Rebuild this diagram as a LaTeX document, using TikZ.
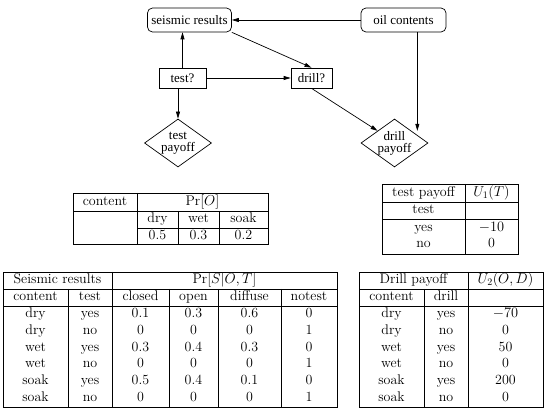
\documentclass[tikz,border=0pt]{standalone}
\usepackage{fontspec}
\newfontfamily\diafont{Liberation Serif}
\usetikzlibrary{shapes.geometric,arrows.meta}
\tikzset{
  box/.style={draw,rectangle,inner sep=0pt,minimum height=20pt},
  rbox/.style={box,rounded corners=5pt,minimum height=24pt},
  pay/.style={draw,diamond,aspect=1.4,inner sep=0pt,minimum width=67pt,minimum height=48pt,align=center},
  arr/.style={-{Triangle[length=7pt,width=4pt]}},
  tab/.style={font=\fontsize{14}{16}\selectfont,text height=9.5pt,text depth=3pt,inner sep=0pt}
}
\begin{document}
\begin{tikzpicture}[x=1pt,y=-1pt,line width=0.7pt,font=\diafont\fontsize{13}{12}\selectfont]
\useasboundingbox (0,0) rectangle (550,414);
% influence diagram
\node[rbox,minimum width=84pt] (seis) at (189.5,20) {seismic results};
\node[rbox,minimum width=85pt] (oil) at (403.5,20) {oil contents};
\node[box,minimum width=47pt] (test) at (182.5,78) {test?};
\node[box,minimum width=41pt] (drill) at (311.5,78) {drill?};
\node[pay] (tpay) at (178,143) {test\\payoff};
\node[pay] (dpay) at (394.5,143) {drill\\payoff};
\coordinate (oilfoot) at ([xshift=-29pt]oil.south east);
\draw[arr] (oil.west) -- (seis.east);
\draw[arr] (test.north) -- (test.north |- seis.south);
\draw[arr] (seis.south east) -- (drill.north);
\draw[arr] (test.east) -- (drill.west);
\draw[arr] (tpay.north |- test.south) -- (tpay.north);
\draw[arr] (drill.south) -- (dpay.north west);
\draw[arr] (oilfoot) -- (oilfoot |- dpay.north east);
% Pr[O]
\draw (73,193) rectangle (268,244);
\draw (73,211) -- (268,211) (137,228) -- (268,228);
\draw (137,193) -- (137,244) (178,211) -- (178,244) (219,211) -- (219,244);
\node[tab] (oc) at (105,202) {content};
\node[tab] (op) at (202.5,202) {$\Pr[O]$};
\foreach \o/\p/\x [count=\i] in {dry/0.5/157.5, wet/0.3/198.5, soak/0.2/243.5} {
  \node[tab] (on\i) at (\x,219.5) {\o};
  \node[tab] (ov\i) at (\x,236) {\p};
}
% U1(T)
\draw (382,184) rectangle (518,254);
\draw (382,202) -- (518,202) (382,219) -- (518,219) (465,184) -- (465,254);
\node[tab] (tp) at (423.5,193) {test payoff};
\node[tab] (tu) at (491.5,193) {$U_1(T)$};
\node[tab] (tt) at (423.5,210.5) {test};
\node[tab] (ty) at (423.5,228) {yes};
\node[tab] (tyv) at (491.5,228) {$-10$};
\node[tab] (tn) at (423.5,244) {no};
\node[tab] (tnv) at (491.5,244) {0};
% Pr[S|O,T]
\draw (3,272) rectangle (337,407);
\draw (3,289) -- (337,289) (3,306) -- (337,306) (112,272) -- (112,407);
\foreach \x in {68,169,218,281} \draw (\x,289) -- (\x,407);
\node[tab] (sh) at (57.5,280.5) {Seismic results};
\node[tab] (sp) at (224.5,280.5) {$\Pr[S|O,T]$};
\foreach \t/\x [count=\i] in {content/35.5, test/90, closed/140.5, open/193.5, diffuse/249.5, notest/309}
  \node[tab] (sk\i) at (\x,297.5) {\t};
\foreach \c/\t/\a/\b/\d/\n [count=\i from 0] in {dry/yes/0.1/0.3/0.6/0, dry/no/0/0/0/1, wet/yes/0.3/0.4/0.3/0, wet/no/0/0/0/1, soak/yes/0.5/0.4/0.1/0, soak/no/0/0/0/1} {
  \node[tab] (sc\i) at (35.5,{314+16.9*\i}) {\c};
  \node[tab] (st\i) at (90,{314+16.9*\i}) {\t};
  \node[tab] (sa\i) at (140.5,{314+16.9*\i}) {\a};
  \node[tab] (sb\i) at (193.5,{314+16.9*\i}) {\b};
  \node[tab] (sd\i) at (249.5,{314+16.9*\i}) {\d};
  \node[tab] (sn\i) at (309,{314+16.9*\i}) {\n};
}
% U2(O,D)
\draw (359,272) rectangle (543,407);
\draw (359,289) -- (543,289) (359,306) -- (543,306) (468,272) -- (468,407) (424,289) -- (424,407);
\node[tab] (dh) at (413.5,280.5) {Drill payoff};
\node[tab] (du) at (505.5,280.5) {$U_2(O,D)$};
\node[tab] (dk1) at (391.5,297.5) {content};
\node[tab] (dk2) at (446,297.5) {drill};
\foreach \c/\t/\u [count=\i from 0] in {dry/yes/$-70$, dry/no/0, wet/yes/50, wet/no/0, soak/yes/200, soak/no/0} {
  \node[tab] (dc\i) at (391.5,{314+16.9*\i}) {\c};
  \node[tab] (dt\i) at (446,{314+16.9*\i}) {\t};
  \node[tab] (dv\i) at (505.5,{314+16.9*\i}) {\u};
}
\end{tikzpicture}
\end{document}
